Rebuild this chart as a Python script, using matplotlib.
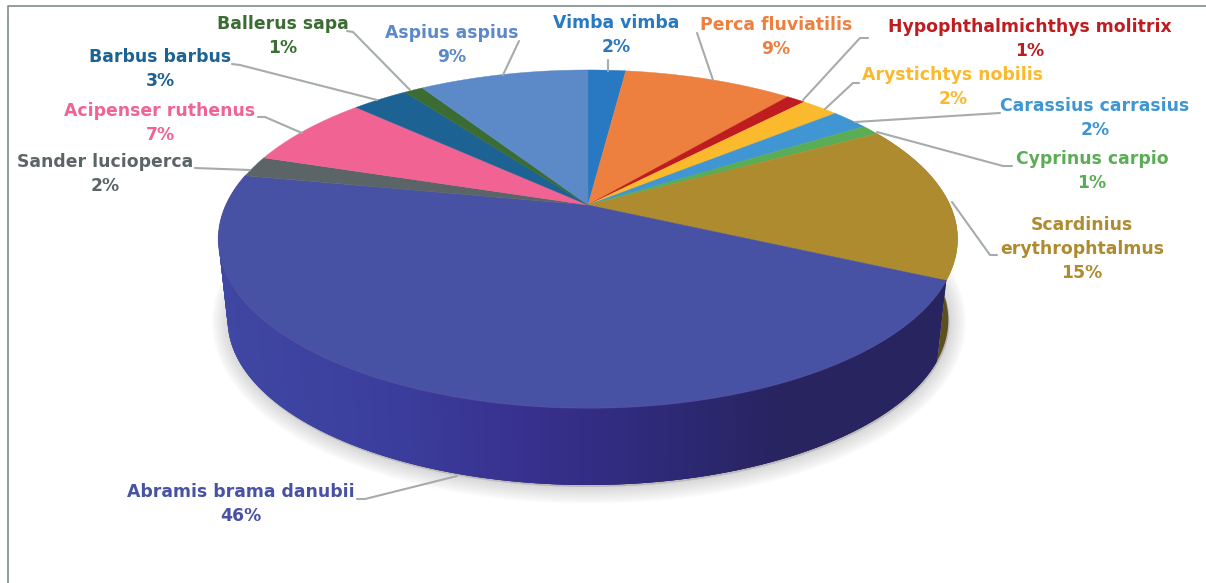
import numpy as np
import matplotlib
matplotlib.use("Agg")
import matplotlib.pyplot as plt
from matplotlib.colors import to_rgb

species = ["Vimba vimba", "Perca fluviatilis", "Hypophthalmichthys molitrix", "Arystichtys nobilis",
           "Carassius carrasius", "Cyprinus carpio", "Scardinius\nerythrophtalmus", "Abramis brama danubii",
           "Sander lucioperca", "Acipenser ruthenus", "Barbus barbus", "Ballerus sapa", "Aspius aspius"]
shares = [2, 9, 1, 2, 2, 1, 15, 46, 2, 7, 3, 1, 9]
colors = ["#2878c2", "#ed7f3f", "#bf1c20", "#fbb92d", "#3f96d2", "#5aad55", "#ae8b2f", "#4852a5",
          "#5b6568", "#f06393", "#1c6393", "#3b6c34", "#5c89c8"]

# label anchor (x, y of block centre) and leader polyline, in pixels
label_pos = [(616, 35), (776, 37), (1030, 39), (953, 87), (1095, 118), (1092, 171), (1082, 249), (241, 504),
             (105, 174), (160, 123), (160, 69), (283, 36), (452, 45)]
leaders = [[(608, 60), (608, 71)],
           [(697, 33), (713, 80)],
           [(868, 38), (860, 38), (803, 100)],
           [(859, 83), (853, 83), (825, 109)],
           [(1000, 113), (855, 122)],
           [(1012, 166), (1003, 166), (877, 132)],
           [(997, 255), (990, 255), (952, 202)],
           [(357, 499), (365, 499), (457, 476)],
           [(195, 168), (250, 170)],
           [(258, 117), (265, 117), (302, 133)],
           [(232, 64), (240, 65), (377, 100)],
           [(347, 31), (353, 32), (410, 90)],
           [(519, 41), (503, 75)]]

W, H = 1206, 583
fig = plt.figure(figsize=(W / 100, H / 100), dpi=100)
ax = fig.add_axes([0, 0, 1, 1])
ax.set_xlim(0, W)
ax.set_ylim(H, 0)
ax.axis("off")

CX, CY, RX, RY, K = 588, 205, 362, 162.2, 0.2012
SCALE, DROP = 0.975, 82


def rim(frac):
    a = 2 * np.pi * np.asarray(frac)
    x, y = np.sin(a), -np.cos(a)
    d = 1 - K * y
    return CX + RX * x / d, CY + RY * y / d


def base(frac):
    x, y = rim(frac)
    return CX + SCALE * (x - CX), CY + SCALE * (y - CY) + DROP


# soft shadow under the drum
f_all = np.linspace(0, 1, 361)
bx, by = base(f_all)
for lw in np.arange(24, 1, -2):
    ax.fill(bx + 1, by + 2, facecolor="#606060", edgecolor="#606060", alpha=0.018, lw=lw, joinstyle="round", zorder=1)

edges = np.cumsum([0] + shares) / sum(shares)

# side wall: horizontal gradient on Abramis, flat olive on Scardinius
wall_x = [225, 400, 520, 640, 780, 945]
wall_c = [to_rgb(c) for c in ["#3f47a3", "#3b3d9c", "#38318f", "#2f2b7c", "#272460", "#272460"]]
i_s, i_a = 6, 7
f = np.linspace(edges[i_s], edges[i_s + 1], 40)
x1, y1 = rim(f)
x2, y2 = base(f)
ax.fill(np.r_[x1, x2[::-1]], np.r_[y1, y2[::-1]], color="#5c501c", lw=0, zorder=2)
f = np.linspace(edges[i_a], edges[i_a + 1], 500)
x1, y1 = rim(f)
x2, y2 = base(f)
for j in range(len(f) - 1):
    j2 = min(j + 3, len(f) - 1)
    xm = (x1[j] + x2[j]) / 2
    c = [np.interp(xm, wall_x, [v[k] for v in wall_c]) for k in range(3)]
    ax.fill([x1[j], x1[j2], x2[j2], x2[j]], [y1[j], y1[j2], y2[j2], y2[j]], color=c, lw=0, zorder=2)

# top surface
for i, c in enumerate(colors):
    f = np.linspace(edges[i], edges[i + 1], max(int(shares[i] * 8), 6))
    x, y = rim(f)
    ax.fill(np.r_[CX, x], np.r_[CY, y], color=c, lw=0.3, zorder=3)
f = np.linspace(edges[i_a], edges[i_a + 1], 300)
x, y = rim(f)
ax.plot(x, y, color="#5a4fa0", lw=1, alpha=0.5, zorder=4)

# leaders and labels
for pts in leaders:
    p = np.array(pts)
    ax.plot(p[:, 0], p[:, 1], color="#a6abab", lw=1.5, zorder=5, solid_capstyle="round")
for name, share, c, (lx, ly) in zip(species, shares, colors, label_pos):
    ax.text(lx, ly, f"{name}\n{share}%", color=c, ha="center", va="center", fontsize=12.4,
            fontweight="bold", family="DejaVu Sans", linespacing=1.4, zorder=6)

# frame
ax.plot([8, 8, W], [H, 6, 6], color="#7e8c8c", lw=1.2, zorder=6)

fig.savefig("out.png", dpi=100)
